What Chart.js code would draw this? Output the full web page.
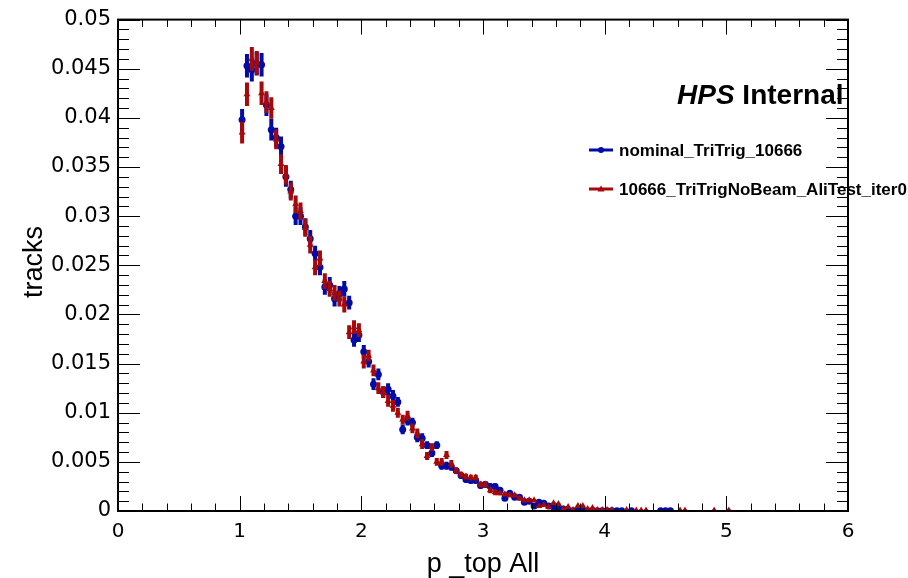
<!DOCTYPE html>
<html>
<head>
<meta charset="utf-8">
<script src="https://cdn.jsdelivr.net/npm/chart.js@4/dist/chart.umd.min.js"></script>
<style>
  html, body { margin: 0; padding: 0; background: #fff; }
</style>
</head>
<body>
<canvas id="pChart" width="908" height="578"></canvas>
<script>
// bin centres of the p_top histogram (GeV)
const binCenters = [
  1.02, 1.06, 1.10, 1.14, 1.18, 1.22, 1.26, 1.30, 1.34, 1.38,
  1.42, 1.46, 1.50, 1.54, 1.58, 1.62, 1.66, 1.70, 1.74, 1.78,
  1.82, 1.86, 1.90, 1.94, 1.98, 2.02, 2.06, 2.10, 2.14, 2.18,
  2.22, 2.26, 2.30, 2.34, 2.38, 2.42, 2.46, 2.50, 2.54, 2.58,
  2.62, 2.66, 2.70, 2.74, 2.78, 2.82, 2.86, 2.90, 2.94, 2.98,
  3.02, 3.06, 3.10, 3.14, 3.18, 3.22, 3.26, 3.30, 3.34, 3.38,
  3.42, 3.46, 3.50, 3.54, 3.58, 3.62, 3.66, 3.70, 3.74, 3.78,
  3.82, 3.86, 3.90, 3.94, 3.98, 4.02, 4.06, 4.10, 4.14, 4.18,
  4.22, 4.26, 4.30, 4.34, 4.38, 4.42, 4.46, 4.50, 4.54, 4.58,
  4.62, 4.66, 4.70, 4.74, 4.78, 4.82, 4.86, 4.90, 4.94, 4.98,
  5.02
];

const nominalTracks = [
  0.0398, 0.0453, 0.0449, 0.0455, 0.0454, 0.0413, 0.0388, 0.0380, 0.0371, 0.0340,
  0.0327, 0.0300, 0.0300, 0.0289, 0.0277, 0.0262, 0.0248, 0.0228, 0.0230, 0.0216,
  0.0221, 0.0226, 0.0212, 0.0174, 0.0179, 0.0162, 0.0152, 0.0129, 0.0139, 0.0121,
  0.0124, 0.0117, 0.0111, 0.0083, 0.0092, 0.0090, 0.0075, 0.0074, 0.0067, 0.0059,
  0.0067, 0.0046, 0.0046, 0.0045, 0.0041, 0.0036, 0.0032, 0.0031, 0.0031, 0.0026,
  0.0027, 0.0025, 0.0025, 0.0021, 0.0013, 0.0018, 0.0014, 0.0014, 0.0009, 0.0010,
  0.0005, 0.0009, 0.0008, 0.0005, 0.0004, 0.0002, 0.0002, 0.0001, 0.00003, 0.00003,
  0.00003, 0.00003, 0.00003, 0.00003, 0.00003, 0.00003, 0.00003, 0.00003, 0.00003, null,
  0.00003, null, null, null, null, null, 0.00003, 0.00003, 0.00003, null,
  null, null, null, null, null, null, null, null, null, null,
  null
];

const noBeamTracks = [
  0.0385, 0.0424, 0.0460, 0.0456, 0.0425, 0.0416, 0.0410, 0.0378, 0.0353, 0.0342,
  0.0325, 0.0312, 0.0305, 0.0288, 0.0271, 0.0248, 0.0257, 0.0234, 0.0226, 0.0222,
  0.0216, 0.0210, 0.0182, 0.0187, 0.0184, 0.0152, 0.0158, 0.0143, 0.0125, 0.0121,
  0.0112, 0.0107, 0.0100, 0.0093, 0.0097, 0.0084, 0.0079, 0.0068, 0.0056, 0.0065,
  0.0050, 0.0050, 0.0057, 0.0048, 0.0041, 0.0037, 0.0035, 0.0034, 0.0034, 0.0027,
  0.0027, 0.0021, 0.0019, 0.0018, 0.0017, 0.0016, 0.0016, 0.0013, 0.0011, 0.0011,
  0.0011, 0.0005, 0.0006, 0.0004, 0.0008, 0.0007, 0.0002, 0.0004, 0.0001, 0.0005,
  0.0005, 0.0002, 0.0003, 0.0001, 0.0001, 0.0001, 0.0001, null, null, 0.0001,
  null, 0.00005, 0.00005, 0.00005, null, null, null, null, null, null,
  0.00005, 0.00005, null, null, null, null, null, 0.00005, null, null,
  0.00005
];

// statistical error per bin, in units of 1e-4
const binErrors = [
  11, 12, 12, 12, 12, 11, 11, 10, 10, 10,
  9, 9, 9, 9, 9, 8, 8, 8, 8, 8,
  8, 8, 7, 7, 7, 7, 6, 6, 6, 6,
  6, 6, 5, 5, 5, 5, 5, 5, 4, 4,
  4, 4, 4, 4, 3, 3, 3, 3, 3, 3,
  3, 3, 3, 2, 2, 2, 2, 2, 2, 2,
  1, 1, 1, 1, 1, 1, 1, 1, 1, 1,
  1, 1, 1, 1, 1, 1, 1, 1, 1, 1,
  1, 1, 1, 1, 1, 1, 1, 1, 1, 1,
  1, 1, 1, 1, 1, 1, 1, 1, 1, 1,
  1
];

const seriesNames = ["nominal_TriTrig_10666", "10666_TriTrigNoBeam_AliTest_iter0"];
const blue = "rgb(0, 12, 165)";
const red = "rgb(165, 10, 10)";

function toPoints(values) {
  const pts = [];
  values.forEach((v, i) => {
    if (v !== null) pts.push({ x: binCenters[i], y: v, err: binErrors[i] * 1e-4 });
  });
  return pts;
}

// vertical error bars, drawn right before each dataset's markers
const errorBars = {
  id: "errorBars",
  beforeDatasetDraw(chart, args) {
    const ctx = chart.ctx;
    const ds = chart.data.datasets[args.index];
    const meta = args.meta;
    const ys = chart.scales.y;
    const area = chart.chartArea;
    ctx.save();
    ctx.beginPath();
    ctx.rect(area.left, area.top, area.right - area.left, area.bottom - area.top);
    ctx.clip();
    ctx.strokeStyle = ds.borderColor;
    ctx.lineWidth = 4;
    ctx.beginPath();
    meta.data.forEach((el, j) => {
      const p = ds.data[j];
      ctx.moveTo(el.x, ys.getPixelForValue(p.y + p.err));
      ctx.lineTo(el.x, ys.getPixelForValue(Math.max(0, p.y - p.err)));
    });
    ctx.stroke();
    ctx.restore();
  }
};

// ROOT-style frame, inward ticks, titles, label and legend
const rootFrame = {
  id: "rootFrame",
  afterDraw(chart) {
    const ctx = chart.ctx;
    const { left, right, top, bottom } = chart.chartArea;
    const xs = chart.scales.x, ys = chart.scales.y;
    ctx.save();
    ctx.strokeStyle = "#000";
    ctx.lineWidth = 1;
    ctx.beginPath();
    for (let k = 0; k <= 30; k++) {
      const v = k * 0.2;
      const len = k % 5 === 0 ? 15 : 7.5;
      const px = Math.round(xs.getPixelForValue(v)) + 0.5;
      ctx.moveTo(px, bottom); ctx.lineTo(px, bottom - len);
      ctx.moveTo(px, top); ctx.lineTo(px, top + len);
    }
    for (let k = 0; k <= 50; k++) {
      const v = k * 0.001;
      const len = k % 5 === 0 ? 22 : 11;
      const py = Math.round(ys.getPixelForValue(v)) + 0.5;
      ctx.moveTo(left, py); ctx.lineTo(left + len, py);
      ctx.moveTo(right, py); ctx.lineTo(right - len, py);
    }
    ctx.stroke();
    ctx.lineWidth = 2;
    ctx.strokeRect(left, top, right - left, bottom - top);

    // axis titles
    ctx.fillStyle = "#000";
    ctx.font = "27px 'Liberation Sans', Arial, sans-serif";
    ctx.textAlign = "center";
    ctx.textBaseline = "alphabetic";
    ctx.fillText("p _top All", 483, 572);
    ctx.save();
    ctx.translate(42, 262);
    ctx.rotate(-Math.PI / 2);
    ctx.fillText("tracks", 0, 0);
    ctx.restore();

    // HPS Internal
    ctx.textAlign = "left";
    ctx.font = "italic bold 28px 'Liberation Sans', Arial, sans-serif";
    ctx.fillText("HPS", 677, 104);
    const w = ctx.measureText("HPS ").width;
    ctx.font = "bold 28px 'Liberation Sans', Arial, sans-serif";
    ctx.fillText("Internal", 677 + w, 104);

    // legend
    const rows = [
      { name: seriesNames[0], color: blue, style: "circle", y: 150 },
      { name: seriesNames[1], color: red, style: "triangle", y: 189 }
    ];
    ctx.font = "bold 17px 'Liberation Sans', Arial, sans-serif";
    ctx.textBaseline = "middle";
    rows.forEach(r => {
      ctx.strokeStyle = r.color;
      ctx.fillStyle = r.color;
      ctx.lineWidth = 3;
      ctx.beginPath();
      ctx.moveTo(589, r.y); ctx.lineTo(613, r.y);
      ctx.stroke();
      ctx.beginPath();
      if (r.style === "circle") {
        ctx.arc(601, r.y, 3, 0, Math.PI * 2);
      } else {
        ctx.moveTo(601, r.y - 3.5); ctx.lineTo(604.5, r.y + 2.5); ctx.lineTo(597.5, r.y + 2.5); ctx.closePath();
      }
      ctx.fill();
      ctx.fillStyle = "#000";
      ctx.fillText(r.name, 619, r.y + 1);
    });
    ctx.restore();
  }
};

function fmtY(v) {
  return String(parseFloat(Number(v).toFixed(3)));
}

new Chart(document.getElementById("pChart").getContext("2d"), {
  type: "scatter",
  data: {
    datasets: [
      {
        label: seriesNames[0],
        data: toPoints(nominalTracks),
        borderColor: blue,
        backgroundColor: blue,
        pointStyle: "circle",
        pointRadius: 3.5,
        pointBorderWidth: 0,
        order: 2
      },
      {
        label: seriesNames[1],
        data: toPoints(noBeamTracks),
        borderColor: red,
        backgroundColor: red,
        pointStyle: "triangle",
        pointRadius: 4,
        pointBorderWidth: 0,
        order: 1
      }
    ]
  },
  options: {
    responsive: false,
    animation: false,
    events: [],
    layout: { padding: { left: 0, top: 17, right: 60, bottom: 0 } },
    plugins: {
      legend: { display: false },
      tooltip: { enabled: false }
    },
    scales: {
      x: {
        type: "linear",
        min: 0,
        max: 6,
        grid: { display: false, drawTicks: false },
        border: { display: false },
        ticks: {
          stepSize: 1,
          padding: 9,
          color: "#000",
          font: { family: "'DejaVu Sans', sans-serif", size: 20 },
          maxRotation: 0
        },
        afterFit: s => { s.height = 67; }
      },
      y: {
        type: "linear",
        min: 0,
        max: 0.05,
        grid: { display: false, drawTicks: false },
        border: { display: false },
        ticks: {
          stepSize: 0.005,
          padding: 7,
          color: "#000",
          font: { family: "'DejaVu Sans', sans-serif", size: 21 },
          callback: v => fmtY(v)
        },
        afterFit: s => { s.width = 118; }
      }
    }
  },
  plugins: [errorBars, rootFrame]
});
</script>
</body>
</html>
